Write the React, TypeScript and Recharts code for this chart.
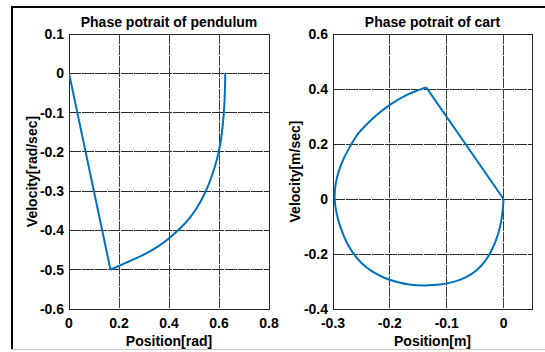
import React from 'react';
import { LineChart, Line, XAxis, YAxis, CartesianGrid, ReferenceArea } from 'recharts';

// pendulum trajectory: angle [rad] vs angular velocity [rad/sec]
// first segment is the straight jump, the rest is the smooth return curve
const pendulumJumpPos = [0, 0.166];
const pendulumJumpVel = [0, -0.5];
const pendulumPos = [0.166, 0.229, 0.295, 0.362, 0.414, 0.468, 0.507, 0.547, 0.573, 0.593, 0.607, 0.616, 0.621, 0.624, 0.625];
const pendulumVel = [-0.5, -0.482, -0.464, -0.44, -0.413, -0.381, -0.349, -0.303, -0.26, -0.218, -0.176, -0.129, -0.087, -0.044, 0];

// cart trajectory: position [m] vs velocity [m/sec]
const cartJumpPos = [0, -0.136];
const cartJumpVel = [0, 0.406];
const cartPos = [
  -0.136, -0.17, -0.199, -0.222, -0.24, -0.258, -0.269, -0.281, -0.29, -0.296, -0.298, -0.294, -0.287, -0.278,
  -0.266, -0.252, -0.234, -0.211, -0.187, -0.164, -0.138, -0.111, -0.088, -0.065, -0.047, -0.032, -0.021, -0.012,
  -0.006, -0.002, 0,
];
const cartVel = [
  0.406, 0.382, 0.345, 0.309, 0.273, 0.236, 0.194, 0.151, 0.103, 0.055, 0, -0.055, -0.103, -0.152, -0.194, -0.231,
  -0.261, -0.287, -0.303, -0.313, -0.315, -0.312, -0.303, -0.285, -0.261, -0.227, -0.188, -0.145, -0.103, -0.055, 0,
];

const pendulumXTicks = [0, 0.2, 0.4, 0.6, 0.8];
const pendulumYTicks = [-0.6, -0.5, -0.4, -0.3, -0.2, -0.1, 0, 0.1];
const cartXTicks = [-0.3, -0.2, -0.1, 0];
const cartYTicks = [-0.4, -0.2, 0, 0.2, 0.4, 0.6];

const FONT = '"Liberation Sans", Arial, sans-serif';
const BLUE = '#0072BD';
const tickStyle = { fill: '#000', fontSize: 14, fontWeight: 700, fontFamily: FONT };
const labelStyle = { fill: '#000', fontSize: 14, fontWeight: 700, fontFamily: FONT, textAnchor: 'middle' as const };

const fmt = (v: number) => String(Math.round(v * 10) / 10);
const toPoints = (xs: number[], ys: number[]) => xs.map((x, i) => ({ x, y: ys[i] }));

interface PhaseProps {
  title: string;
  jump: { x: number; y: number }[];
  curve: { x: number; y: number }[];
  xDomain: [number, number];
  yDomain: [number, number];
  xTicks: number[];
  yTicks: number[];
  xLabel: string;
  yLabel: string;
  left: number;
  width: number;
  axisWidth: number;
  rightMargin: number;
  yLabelOffset: number;
}

const PhasePlot = (p: PhaseProps) => {
  const plotLeft = p.left + p.axisWidth;
  const plotWidth = p.width - p.axisWidth - p.rightMargin;
  return (
    <>
      <div
        style={{
          position: 'absolute',
          left: plotLeft,
          width: plotWidth,
          top: 14,
          textAlign: 'center',
          fontFamily: FONT,
          fontWeight: 700,
          fontSize: 14,
          lineHeight: '16px',
          whiteSpace: 'nowrap',
        }}
      >
        {p.title}
      </div>
      <div style={{ position: 'absolute', left: p.left, top: 0 }}>
        <LineChart width={p.width} height={352} margin={{ top: 34, right: p.rightMargin, bottom: 0, left: 0 }}>
          <CartesianGrid vertical={false} stroke='#2a2a2a' strokeDasharray='12 1' shapeRendering='crispEdges' />
          <CartesianGrid horizontal={false} stroke='#3c3c3c' strokeDasharray='10 1' shapeRendering='crispEdges' />
          <XAxis
            type='number'
            dataKey='x'
            domain={p.xDomain}
            ticks={p.xTicks}
            tickFormatter={fmt}
            allowDataOverflow
            height={43}
            tickLine={false}
            tickSize={0}
            tickMargin={9}
            axisLine={false}
            tick={tickStyle}
            interval={0}
            label={{ value: p.xLabel, position: 'insideBottom', offset: 6, style: labelStyle }}
          />
          <YAxis
            type='number'
            dataKey='y'
            domain={p.yDomain}
            ticks={p.yTicks}
            tickFormatter={fmt}
            allowDataOverflow
            width={p.axisWidth}
            tickLine={false}
            tickSize={0}
            tickMargin={5}
            axisLine={false}
            tick={tickStyle}
            interval={0}
            label={{ value: p.yLabel, angle: -90, position: 'insideLeft', offset: p.yLabelOffset, style: labelStyle }}
          />
          <ReferenceArea
            x1={p.xDomain[0]}
            x2={p.xDomain[1]}
            y1={p.yDomain[0]}
            y2={p.yDomain[1]}
            fill='none'
            stroke='#262626'
            strokeWidth={1}
            shapeRendering='crispEdges'
          />
          <Line data={p.jump} type='linear' dataKey='y' stroke={BLUE} strokeWidth={2} dot={false} isAnimationActive={false} />
          <Line data={p.curve} type='basis' dataKey='y' stroke={BLUE} strokeWidth={2} dot={false} isAnimationActive={false} />
        </LineChart>
      </div>
    </>
  );
};

export default function App() {
  return (
    <div style={{ position: 'absolute', left: 0, top: 0, width: 545, height: 352, background: '#fff', overflow: 'hidden' }}>
      {/* figure frame */}
      <div style={{ position: 'absolute', left: 11, top: 6, width: 534, height: 2, background: '#000' }} />
      <div style={{ position: 'absolute', left: 11, top: 6, width: 2, height: 344, background: '#000' }} />
      <div style={{ position: 'absolute', left: 11, top: 349, width: 534, height: 1, background: '#c8c8c8' }} />

      <PhasePlot
        title='Phase potrait of pendulum'
        jump={toPoints(pendulumJumpPos, pendulumJumpVel)}
        curve={toPoints(pendulumPos, pendulumVel)}
        xDomain={[0, 0.8]}
        yDomain={[-0.6, 0.1]}
        xTicks={pendulumXTicks}
        yTicks={pendulumYTicks}
        xLabel='Position[rad]'
        yLabel='Velocity[rad/sec]'
        left={0}
        width={280}
        axisWidth={69}
        rightMargin={11}
        yLabelOffset={32}
      />
      <PhasePlot
        title='Phase potrait of cart'
        jump={toPoints(cartJumpPos, cartJumpVel)}
        curve={toPoints(cartPos, cartVel)}
        xDomain={[-0.3, 0.05]}
        yDomain={[-0.4, 0.6]}
        xTicks={cartXTicks}
        yTicks={cartYTicks}
        xLabel='Position[m]'
        yLabel='Velocity[m/sec]'
        left={280}
        width={265}
        axisWidth={53}
        rightMargin={13}
        yLabelOffset={15}
      />
    </div>
  );
}
